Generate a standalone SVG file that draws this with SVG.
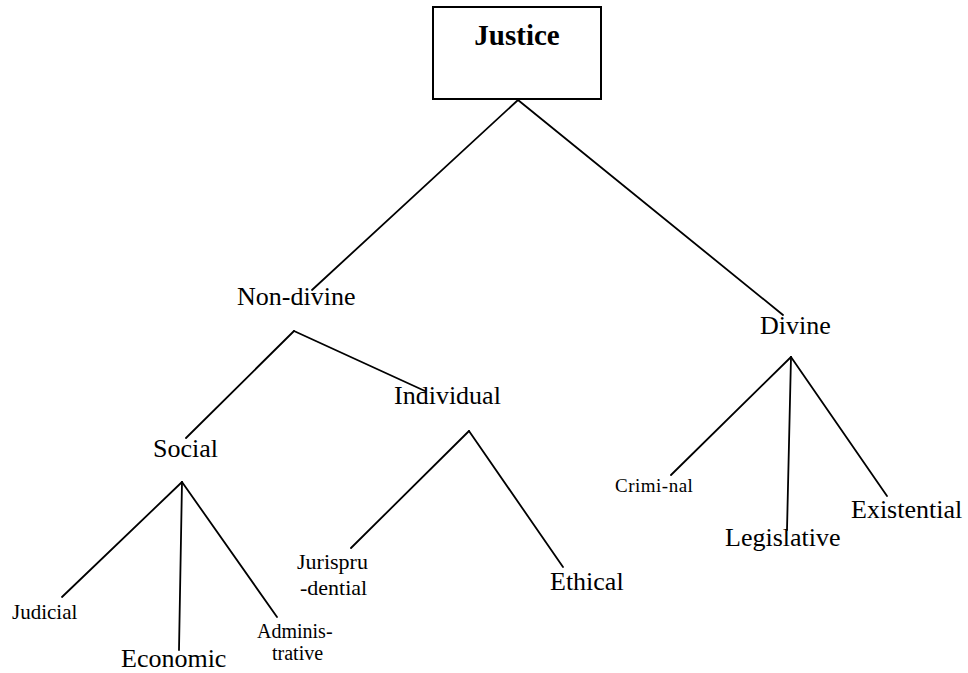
<svg xmlns="http://www.w3.org/2000/svg" width="968" height="673" viewBox="0 0 968 673">
<style>
text{font-family:'Liberation Serif','Times New Roman',serif;fill:#000}
.l{font-size:26px}
.s{font-size:21px}
.c line{stroke:#000;stroke-width:1.8;stroke-linecap:round}
</style>
<rect width="968" height="673" fill="#fff"/>
<g id="justice">
<rect x="433" y="7" width="168" height="92" fill="#fff" stroke="#000" stroke-width="2"/>
<text x="517" y="45" text-anchor="middle" font-size="29" font-weight="bold">Justice</text>
</g>
<g class="c" id="connectors">
<line x1="518" y1="100" x2="312" y2="290"/>
<line x1="518" y1="100" x2="783" y2="315"/>
<line x1="294" y1="331" x2="186" y2="438"/>
<line x1="294" y1="331" x2="425" y2="391"/>
<line x1="469" y1="431" x2="351" y2="548"/>
<line x1="469" y1="431" x2="563" y2="567"/>
<line x1="182" y1="482" x2="62" y2="597"/>
<line x1="182" y1="482" x2="179" y2="650"/>
<line x1="182" y1="482" x2="277" y2="617"/>
<line x1="791" y1="357" x2="671" y2="475"/>
<line x1="791" y1="357" x2="787" y2="530"/>
<line x1="791" y1="357" x2="887" y2="496"/>
</g>
<g id="nondivine"><text class="l" x="237" y="305">Non-divine</text></g>
<g id="divine"><text class="l" x="760" y="334">Divine</text></g>
<g id="social"><text class="l" x="153" y="457">Social</text></g>
<g id="individual"><text class="l" x="394" y="404">Individual</text></g>
<g id="judicial"><text class="s" x="12" y="619">Judicial</text></g>
<g id="economic"><text class="l" x="121" y="667">Economic</text></g>
<g id="administrative"><text font-size="20" x="257" y="638">Adminis-</text><text font-size="20" x="272" y="660">trative</text></g>
<g id="jurisprudential"><text font-size="22" x="297" y="569">Jurispru</text><text font-size="22" x="300" y="595">-dential</text></g>
<g id="ethical"><text class="l" x="550" y="590">Ethical</text></g>
<g id="criminal"><text font-size="19" x="615" y="492" letter-spacing="0.5">Crimi-nal</text></g>
<g id="legislative"><text class="l" x="725" y="546">Legislative</text></g>
<g id="existential"><text class="l" x="851" y="518">Existential</text></g>
</svg>
